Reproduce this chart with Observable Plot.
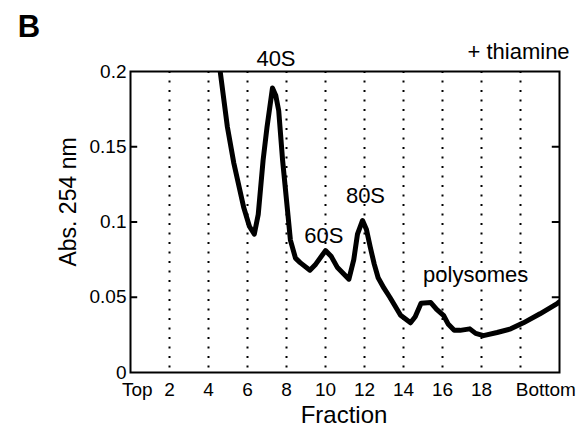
<!DOCTYPE html>
<html><head><meta charset="utf-8">
<script src="https://cdn.jsdelivr.net/npm/d3@7"></script>
<script src="https://cdn.jsdelivr.net/npm/@observablehq/plot@0.6"></script>
<style>body{margin:0;background:#fff} svg{display:block}</style>
</head><body><div id="chart"></div>
<script>
// Absorbance profile (+ thiamine)
const fraction   = [4.35, 4.6, 4.97, 5.3, 5.8, 6.1, 6.35, 6.55, 6.8, 7.0, 7.28, 7.45, 7.6, 7.8, 8.05, 8.2, 8.46, 8.7, 9.2, 9.5, 10.0, 10.3, 10.6, 11.2, 11.45, 11.64, 11.9, 12.1, 12.3, 12.5, 12.7, 13.0, 13.3, 13.85, 14.36, 14.6, 14.9, 15.4, 15.7, 16.05, 16.3, 16.6, 16.9, 17.4, 17.7, 18.1, 18.8, 19.5, 20.15, 21.0, 21.9, 22.0];
const absorbance = [0.225, 0.200, 0.163, 0.139, 0.110, 0.097, 0.092, 0.105, 0.141, 0.163, 0.189, 0.184, 0.174, 0.141, 0.108, 0.088, 0.076, 0.073, 0.068, 0.072, 0.081, 0.077, 0.070, 0.062, 0.075, 0.092, 0.101, 0.095, 0.083, 0.072, 0.063, 0.056, 0.050, 0.038, 0.033, 0.037, 0.046, 0.0465, 0.042, 0.038, 0.032, 0.028, 0.028, 0.029, 0.026, 0.0245, 0.0266, 0.029, 0.033, 0.039, 0.046, 0.047];

const gridFractions = [2, 4, 6, 8, 10, 12, 14, 16, 18, 20];
const xTickValues = [0.35, 2, 4, 6, 8, 10, 12, 14, 16, 18, 21.3];
const xTickLabels = ["Top", "2", "4", "6", "8", "10", "12", "14", "16", "18", "Bottom"];
const yTickValues = [0, 0.05, 0.1, 0.15, 0.2];
const yTickLabels = ["0", "0.05", "0.1", "0.15", "0.2"];
const innerTicks = [0.05, 0.1, 0.15];

const peakLabels = ["40S", "60S", "80S", "polysomes", "+ thiamine"];
const peakX = [7.46, 9.92, 12.05, 17.7, 19.9];
const peakY = [0.2086, 0.091, 0.117, 0.0645, 0.2131];

const curve = fraction.map((f, i) => ({f, a: absorbance[i]}));
const notes = peakLabels.map((t, i) => ({t, x: peakX[i], y: peakY[i]}));

const font = "'Liberation Sans', Arial, Helvetica, sans-serif";

const chart = Plot.plot({
  width: 584,
  height: 427,
  marginLeft: 130,
  marginRight: 25,
  marginTop: 71,
  marginBottom: 55,
  style: {fontFamily: font, fontSize: "19px", color: "black", background: "white", overflow: "visible"},
  x: {domain: [0, 22]},
  y: {domain: [0, 0.2]},
  marks: [
    Plot.ruleX(gridFractions, {stroke: "black", strokeWidth: 2, strokeDasharray: "2,7.5"}),
    Plot.line(curve, {x: "f", y: "a", stroke: "black", strokeWidth: 5, strokeLinejoin: "round", clip: true}),
    Plot.frame({stroke: "black", strokeWidth: 2}),
    Plot.ruleY(innerTicks, {x1: 0, x2: 0.37, stroke: "black", strokeWidth: 2}),
    Plot.ruleY(innerTicks, {x1: 21.63, x2: 22, stroke: "black", strokeWidth: 2}),
    Plot.axisY({ticks: yTickValues, tickFormat: d => yTickLabels[yTickValues.indexOf(d)], tickSize: 0, tickPadding: 4, fontSize: 19, label: null}),
    Plot.axisX({ticks: xTickValues, tickFormat: d => xTickLabels[xTickValues.indexOf(d)], tickSize: 0, tickPadding: 10, fontSize: 19, label: null}),
    Plot.text(notes, {x: "x", y: "y", text: "t", fontSize: 22, textAnchor: "middle", lineAnchor: "middle", fill: "black"}),
    Plot.text(["Fraction"], {x: 10.95, frameAnchor: "bottom", dy: 43, fontSize: 24, lineAnchor: "middle", fill: "black"}),
    Plot.text(["Abs. 254 nm"], {y: 0.1133, frameAnchor: "left", dx: -62, rotate: -90, fontSize: 23, lineAnchor: "middle", textAnchor: "middle", fill: "black"}),
    Plot.text(["B"], {frameAnchor: "top-left", dx: -101.5, dy: -44, fontSize: 31, fontWeight: "bold", lineAnchor: "middle", textAnchor: "middle", fill: "black"})
  ]
});
document.getElementById("chart").append(chart);
</script>
</body></html>
